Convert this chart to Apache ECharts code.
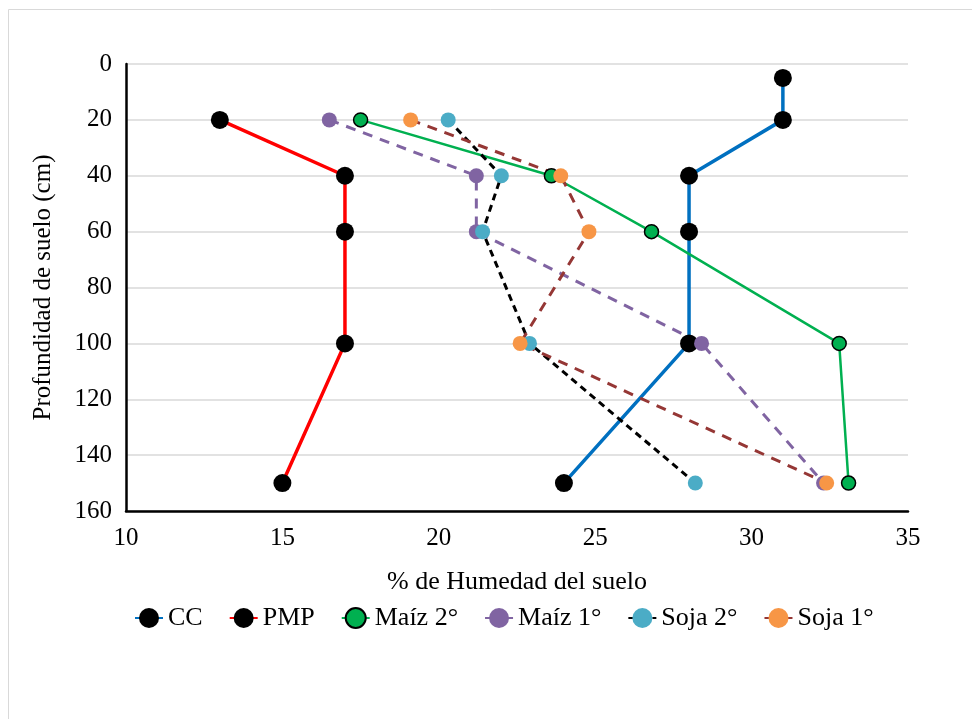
<!DOCTYPE html>
<html>
<head>
<meta charset="utf-8">
<script src="https://cdn.jsdelivr.net/npm/echarts@6/dist/echarts.min.js"></script>
<style>html,body{margin:0;padding:0;background:#fff;}#c{width:972px;height:719px;}</style>
</head>
<body>
<div id="c"></div>
<script>
const seriesNames = ['CC', 'PMP', 'Maíz 2°', 'Maíz 1°', 'Soja 2°', 'Soja 1°'];
const depthCC = [5, 20, 40, 60, 100, 150];
const depthOther = [20, 40, 60, 100, 150];
const ccValues = [31, 31, 28, 28, 28, 24];
const pmpValues = [13, 17, 17, 17, 15];
const maiz2Values = [17.5, 23.6, 26.8, 32.8, 33.1];
const maiz1Values = [16.5, 21.2, 21.2, 28.4, 32.3];
const soja2Values = [20.3, 22.0, 21.4, 22.9, 28.2];
const soja1Values = [19.1, 23.9, 24.8, 22.6, 32.4];
const xTicks = [10, 15, 20, 25, 30, 35];
const yTicks = [0, 20, 40, 60, 80, 100, 120, 140, 160];

function pairs(xs, ys) { return xs.map((v, i) => [v, ys[i]]); }

const font = 'Liberation Serif';
const chart = echarts.init(document.getElementById('c'), null, {renderer: 'canvas'});

function mk(name, xs, ys, lineColor, lineWidth, lineType, symColor, symSize, borderColor, borderWidth) {
  return {
    name: name, type: 'line', data: pairs(xs, ys),
    symbol: 'circle', symbolSize: symSize,
    lineStyle: {color: lineColor, width: lineWidth, type: lineType},
    itemStyle: {color: symColor, borderColor: borderColor || symColor, borderWidth: borderWidth || 0},
    emphasis: {disabled: true}, animation: false
  };
}

chart.setOption({
  animation: false,
  graphic: [{type: 'rect', shape: {x: 8.5, y: 9.5, width: 1000, height: 1000}, style: {fill: 'none', stroke: '#d9d9d9', lineWidth: 1}, silent: true}],
  grid: {left: 126, right: 64, top: 64, bottom: 208},
  legend: {
    top: 600, left: 129,
    itemWidth: 28, itemHeight: 25, itemGap: 26,
    textStyle: {fontFamily: font, fontSize: 26, color: '#000'},
    data: seriesNames
  },
  xAxis: {
    type: 'value', min: 10, max: 35, interval: 5,
    name: '% de Humedad del suelo', nameLocation: 'middle', nameGap: 58,
    nameTextStyle: {fontFamily: font, fontSize: 26, color: '#000'},
    axisLine: {show: true, onZero: false, lineStyle: {color: '#000', width: 2.5}},
    axisTick: {show: false},
    axisLabel: {fontFamily: font, fontSize: 25, color: '#000', margin: 15, formatter: v => xTicks.includes(v) ? String(v) : ''},
    splitLine: {show: false}
  },
  yAxis: {
    type: 'value', inverse: true, min: 0, max: 160, interval: 20,
    name: 'Profundidad de suelo (cm)', nameLocation: 'middle', nameGap: 70, nameRotate: 90,
    nameTextStyle: {fontFamily: font, fontSize: 25, color: '#000'},
    axisLine: {show: true, onZero: false, lineStyle: {color: '#000', width: 2.5}},
    axisTick: {show: false},
    axisLabel: {fontFamily: font, fontSize: 25, color: '#000', margin: 14, formatter: v => yTicks.includes(v) ? String(v) : ''},
    splitLine: {show: true, lineStyle: {color: '#d9d9d9', width: 1.5}}
  },
  series: [
    mk(seriesNames[0], ccValues, depthCC, '#0070C0', 3.5, 'solid', '#000', 18),
    mk(seriesNames[1], pmpValues, depthOther, '#FF0000', 3.5, 'solid', '#000', 18),
    mk(seriesNames[2], maiz2Values, depthOther, '#00B050', 2.5, 'solid', '#00B050', 14, '#000', 1.5),
    mk(seriesNames[3], maiz1Values, depthOther, '#8064A2', 3, [10, 8], '#8064A2', 15),
    mk(seriesNames[4], soja2Values, depthOther, '#000000', 3, [7, 5], '#4BACC6', 15),
    mk(seriesNames[5], soja1Values, depthOther, '#953735', 3, [10, 8], '#F79646', 15)
  ]
});
</script>
</body>
</html>
